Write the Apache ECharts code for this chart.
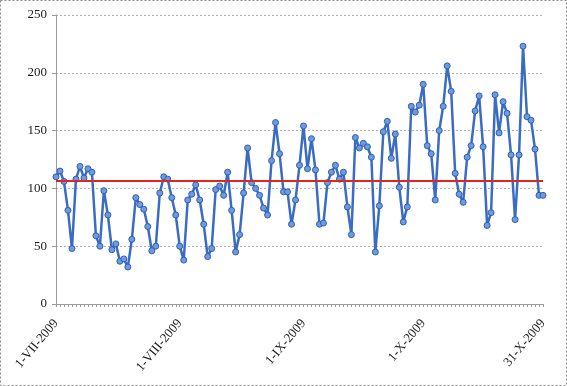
<!DOCTYPE html>
<html>
<head>
<meta charset="utf-8">
<script src="https://cdn.jsdelivr.net/npm/echarts@6/dist/echarts.min.js"></script>
<style>
html,body{margin:0;padding:0;background:#fff;}
#chart{width:567px;height:386px;}
</style>
</head>
<body>
<div id="chart"></div>
<script>
// Daily values, 1 July 2009 .. 31 October 2009
var julyValues = [110,115,106,81,48,108,119,109,117,114,59,50,98,77,47,52,37,39,32,56,92,86,82,67,46,50,96,110,108,92,77];
var augustValues = [50,38,90,95,103,90,69,41,48,99,102,94,114,81,45,60,96,135,105,100,94,83,77,124,157,130,97,97,69,90,120];
var septemberValues = [154,117,143,116,69,70,105,114,120,108,114,84,60,144,135,139,136,127,45,85,149,158,126,147,101,71,84,171,166,172];
var octoberValues = [190,137,130,90,150,171,206,184,113,95,88,127,137,167,180,136,68,79,181,148,175,165,129,73,129,223,162,159,134,94,94];
var averageValue = 107;

var monthRoman = ['VII','VIII','IX','X'];
var monthDays = [31,31,30,31];
var tickLabels = ['1-VII-2009','1-VIII-2009','1-IX-2009','1-X-2009','31-X-2009'];
var yTicks = [0,50,100,150,200,250];

var values = julyValues.concat(augustValues, septemberValues, octoberValues);
var categories = [];
for (var m = 0; m < monthRoman.length; m++) {
  for (var d = 1; d <= monthDays[m]; d++) {
    categories.push(d + '-' + monthRoman[m] + '-2009');
  }
}

var chart = echarts.init(document.getElementById('chart'), null, {renderer: 'canvas'});
var serif = '"Liberation Serif", "Times New Roman", serif';
chart.setOption({
  animation: false,
  backgroundColor: '#ffffff',
  graphic: [{
    type: 'rect',
    shape: {x: 0.5, y: 0.5, width: 566, height: 385},
    style: {fill: 'none', stroke: '#8a8a8a', lineWidth: 1, lineDash: [2, 2]},
    silent: true, z: 100
  }],
  grid: {left: 56, right: 24, top: 15, bottom: 82, containLabel: false},
  xAxis: {
    type: 'category',
    data: categories,
    boundaryGap: false,
    axisLine: {lineStyle: {color: '#9a9a9a', width: 1}},
    axisTick: {show: true, interval: 0, length: 3, lineStyle: {color: '#9a9a9a'}},
    axisLabel: {
      interval: function (idx, val) { return tickLabels.indexOf(val) >= 0; },
      rotate: 50,
      margin: 17,
      fontFamily: serif,
      fontSize: 13,
      color: '#1a1a1a'
    },
    splitLine: {show: false}
  },
  yAxis: {
    type: 'value',
    min: yTicks[0],
    max: yTicks[yTicks.length - 1],
    interval: 50,
    axisLine: {show: true, lineStyle: {color: '#9a9a9a'}},
    axisTick: {show: true, length: 4, lineStyle: {color: '#9a9a9a'}},
    axisLabel: {fontFamily: serif, fontSize: 13, color: '#1a1a1a', margin: 9},
    splitLine: {show: true, lineStyle: {color: '#b0b0b0', type: [2, 2], width: 1}}
  },
  series: [
    {
      type: 'line',
      data: [],
      z: 1,
      silent: true,
      markLine: {
        silent: true,
        symbol: 'none',
        label: {show: false},
        lineStyle: {color: '#e0261f', width: 2, type: 'solid'},
        data: [{yAxis: averageValue}]
      }
    },
    {
      type: 'line',
      data: values,
      z: 3,
      symbol: 'circle',
      symbolSize: 6,
      showAllSymbol: true,
      lineStyle: {color: '#3a6cc4', width: 2.5},
      itemStyle: {color: '#6f9ade', borderColor: '#2f5fb4', borderWidth: 1}
    }
  ]
});
</script>
</body>
</html>
